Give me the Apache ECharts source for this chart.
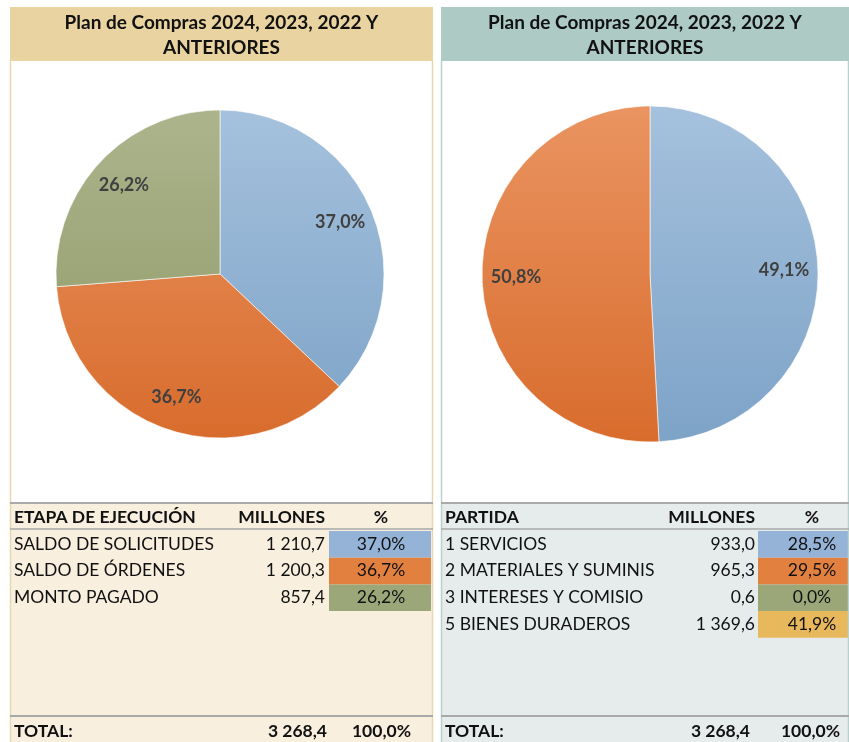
<!DOCTYPE html>
<html>
<head>
<meta charset="utf-8">
<script src="https://cdn.jsdelivr.net/npm/echarts@6/dist/echarts.min.js"></script>
<style>
html, body { margin: 0; padding: 0; background: #fff; }
#main { width: 849px; height: 742px; }
</style>
</head>
<body>
<div id="main"></div>
<script>
// datos
var titulo = ['Plan de Compras 2024, 2023, 2022 Y', 'ANTERIORES'];

var etapas = ['SALDO DE SOLICITUDES', 'SALDO DE ÓRDENES', 'MONTO PAGADO'];
var etapaMillones = [1210.7, 1200.3, 857.4];
var etapaPct = [37.0, 36.7, 26.2];

var partidas = ['1 SERVICIOS', '2 MATERIALES Y SUMINISTROS', '3 INTERESES Y COMISIONES', '5 BIENES DURADEROS'];
var partidaMillones = [933.0, 965.3, 0.6, 1369.6];
var partidaPct = [28.5, 29.5, 0.0, 41.9];

var pieDerechaPct = [49.1, 50.8];

var totalMillones = 3268.4;
var totalPct = 100.0;

var colCelda = ['#95b3d7', '#e2803f', '#9ba679', '#e8b85c'];
var colPie = [
    ['#a5c1dd', '#7da3c7'],
    ['#ea9461', '#d86c2d'],
    ['#acb48c', '#8d9965']
];

var FONT = 'Lato, "Open Sans", sans-serif';
var FS = 17.5;

function fmt(v, d) {
    var s = v.toFixed(d).split('.');
    s[0] = s[0].replace(/\B(?=(\d{3})+(?!\d))/g, ' ');
    return s.join(',');
}

function grad(i, top, bottom) {
    return {
        type: 'linear', x: 0, y: top, x2: 0, y2: bottom, global: true,
        colorStops: [{ offset: 0, color: colPie[i][0] }, { offset: 1, color: colPie[i][1] }]
    };
}

function txt(t, x, y, opts) {
    opts = opts || {};
    var st = {
        text: t, x: x, y: y,
        fill: opts.fill || '#111',
        font: (opts.bold ? 'bold ' : '') + (opts.size || FS) + 'px ' + FONT,
        align: opts.align || 'left',
        verticalAlign: 'middle'
    };
    if (opts.width) {
        st.width = opts.width;
        st.overflow = 'truncate';
        st.ellipsis = '';
    }
    return { type: 'text', silent: true, style: st, z: 10 };
}

function rect(x, y, w, h, fill) {
    return { type: 'rect', silent: true, shape: { x: x, y: y, width: w, height: h }, style: { fill: fill }, z: 1 };
}

function line(x1, y1, x2, y2, color, w) {
    return { type: 'line', silent: true, shape: { x1: x1, y1: y1, x2: x2, y2: y2 }, style: { stroke: color, lineWidth: w || 1 }, z: 5 };
}

var graphics = [];

// paneles
function panel(x0, x1, headCol, tableCol, borderCol, lineCol) {
    graphics.push(rect(x0, 7, x1 - x0, 54, headCol));
    graphics.push(rect(x0, 503, x1 - x0, 239, tableCol));
    graphics.push(line(x0 + 0.5, 61, x0 + 0.5, 742, borderCol, 1.5));
    graphics.push(line(x1 - 0.5, 61, x1 - 0.5, 742, borderCol, 1.5));
    graphics.push(line(x0, 503, x1, 503, lineCol, 2));
    graphics.push(line(x0, 529, x1, 529, lineCol, 1.5));
    graphics.push(line(x0, 716, x1, 716, lineCol, 2));
    var cx = (x0 + x1) / 2;
    graphics.push(txt(titulo[0], cx, 23, { bold: true, size: 19, align: 'center' }));
    graphics.push(txt(titulo[1], cx, 48, { bold: true, size: 19, align: 'center' }));
}
panel(10, 433, '#e8d3a1', '#f8efdf', '#e6d7b0', '#a9a9a9');
panel(441, 849, '#adcac5', '#e6ecec', '#b9d1cd', '#a9a9a9');

var rowH = 26.7;

// tabla izquierda
graphics.push(txt('ETAPA DE EJECUCIÓN', 14, 517, { bold: true }));
graphics.push(txt('MILLONES', 325, 517, { bold: true, align: 'right' }));
graphics.push(txt('%', 381, 517, { bold: true, align: 'center' }));
etapas.forEach(function (n, i) {
    var yc = 544 + i * rowH;
    graphics.push(rect(329, 531 + i * rowH, 102, rowH, colCelda[i]));
    graphics.push(txt(n, 14, yc));
    graphics.push(txt(fmt(etapaMillones[i], 1), 325, yc, { align: 'right' }));
    graphics.push(txt(fmt(etapaPct[i], 1) + '%', 381, yc, { align: 'center' }));
});
graphics.push(txt('TOTAL:', 14, 731, { bold: true }));
graphics.push(txt(fmt(totalMillones, 1), 327, 731, { bold: true, align: 'right' }));
graphics.push(txt(fmt(totalPct, 1) + '%', 411, 731, { bold: true, align: 'right' }));

// tabla derecha
graphics.push(txt('PARTIDA', 445, 517, { bold: true }));
graphics.push(txt('MILLONES', 755, 517, { bold: true, align: 'right' }));
graphics.push(txt('%', 812, 517, { bold: true, align: 'center' }));
partidas.forEach(function (n, i) {
    var yc = 544 + i * rowH;
    graphics.push(rect(758, 531 + i * rowH, 91, rowH, colCelda[i]));
    graphics.push(txt(n, 445, yc, { width: 212 }));
    graphics.push(txt(fmt(partidaMillones[i], 1), 755, yc, { align: 'right' }));
    graphics.push(txt(fmt(partidaPct[i], 1) + '%', 812, yc, { align: 'center' }));
});
graphics.push(txt('TOTAL:', 445, 731, { bold: true }));
graphics.push(txt(fmt(totalMillones, 1), 750, 731, { bold: true, align: 'right' }));
graphics.push(txt(fmt(totalPct, 1) + '%', 840, 731, { bold: true, align: 'right' }));

var labelStyle = {
    show: true, position: 'inside', color: '#404040',
    fontFamily: FONT, fontWeight: 'bold', fontSize: 18
};

var L = { cx: 220, cy: 274, r: 164 };
var R = { cx: 650, cy: 274, r: 168 };

var leftData = etapas.map(function (n, i) {
    return { name: n, value: etapaMillones[i], itemStyle: { color: grad(i, L.cy - L.r, L.cy + L.r) } };
});
var rightData = pieDerechaPct.map(function (v, i) {
    return { name: 'p' + i, value: v, itemStyle: { color: grad(i, R.cy - R.r, R.cy + R.r) } };
});

var myChart = echarts.init(document.getElementById('main'));
myChart.setOption({
    animation: false,
    graphic: graphics,
    series: [
        {
            type: 'pie', center: [L.cx, L.cy], radius: L.r, startAngle: 90, clockwise: true,
            silent: true, label: { show: false }, labelLine: { show: false },
            itemStyle: { borderColor: 'rgba(255,255,255,0.6)', borderWidth: 1 },
            data: leftData
        },
        {
            type: 'pie', center: [L.cx, L.cy], radius: [L.r * 0.56, L.r], startAngle: 90, clockwise: true,
            silent: true, labelLine: { show: false },
            itemStyle: { color: 'rgba(0,0,0,0)' },
            label: Object.assign({}, labelStyle, {
                formatter: function (p) { return fmt(etapaPct[p.dataIndex], 1) + '%'; }
            }),
            data: etapas.map(function (n, i) { return { name: n, value: etapaMillones[i] }; })
        },
        {
            type: 'pie', center: [R.cx, R.cy], radius: R.r, startAngle: 90, clockwise: true,
            silent: true, label: { show: false }, labelLine: { show: false },
            itemStyle: { borderColor: 'rgba(255,255,255,0.6)', borderWidth: 1 },
            data: rightData
        },
        {
            type: 'pie', center: [R.cx, R.cy], radius: [R.r * 0.56, R.r], startAngle: 90, clockwise: true,
            silent: true, labelLine: { show: false },
            itemStyle: { color: 'rgba(0,0,0,0)' },
            label: Object.assign({}, labelStyle, {
                formatter: function (p) { return fmt(p.value, 1) + '%'; }
            }),
            data: pieDerechaPct.map(function (v, i) { return { name: 'p' + i, value: v }; })
        }
    ]
});
</script>
</body>
</html>
